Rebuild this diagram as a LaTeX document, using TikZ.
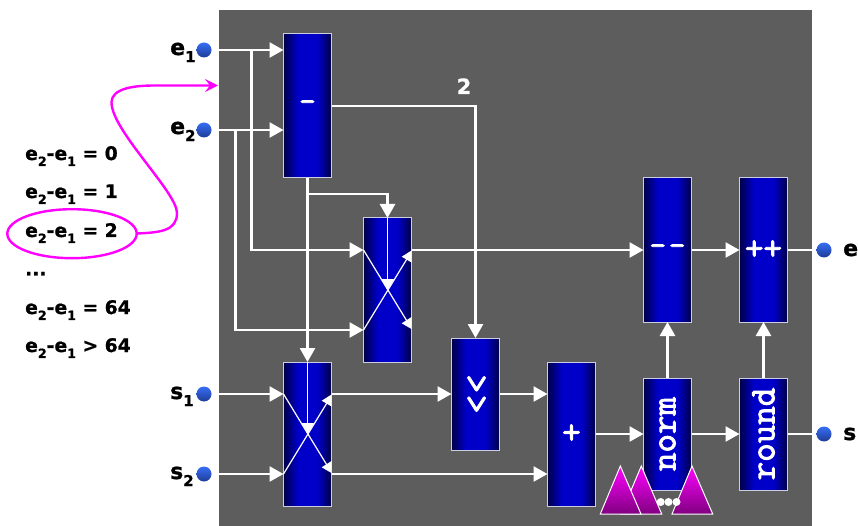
\documentclass[tikz,border=0pt]{standalone}
\usepackage{fontspec}
\usepackage{graphicx}
\setmainfont{DejaVu Sans}[BoldFeatures={FakeBold=1}]
\newfontfamily\slabmono{Latin Modern Mono}[FakeBold=2.5]
\usetikzlibrary{arrows.meta,calc}
\definecolor{panelgray}{RGB}{93,93,93}
\definecolor{boxedge}{RGB}{205,205,225}
\definecolor{hotmag}{RGB}{255,0,255}
\definecolor{pintop}{RGB}{55,110,245}
\definecolor{pinbot}{RGB}{30,60,150}
\pgfdeclarehorizontalshading{boxgrad}{100bp}{
  rgb(0bp)=(0,0,0.28);
  rgb(25bp)=(0,0,0.28);
  rgb(32bp)=(0,0,0.52);
  rgb(40bp)=(0,0,0.79);
  rgb(60bp)=(0,0,0.79);
  rgb(68bp)=(0,0,0.52);
  rgb(75bp)=(0,0,0.28);
  rgb(100bp)=(0,0,0.28)}
\newcommand{\sbs}[1]{\raisebox{-0.32em}{\fontsize{0.68em}{0.8em}\selectfont #1}}
\newcommand{\diff}[1]{e\sbs{2}-e\sbs{1} #1}
\tikzset{
  x=1pt,y=-1pt,
  hw/.style={draw=boxedge,line width=1pt,shading=boxgrad,inner sep=0pt,outer sep=0pt,
    minimum width=48pt,text=white,font=\fontsize{36}{36}\selectfont\slabmono},
  wire/.style={draw=white,line width=2.6pt},
  arrowed/.style={wire,-{Triangle[length=14pt,width=15pt]}},
  thinw/.style={draw=white,line width=1.2pt},
  pin/.style={circle,inner sep=0pt,outer sep=0pt,minimum size=15pt,top color=pintop,bottom color=pinbot},
  pinlabel/.style={anchor=base west,inner sep=0pt,font=\fontsize{22}{22}\selectfont\bfseries},
  difflabel/.style={anchor=base west,inner sep=0pt,font=\fontsize{18.7}{20}\selectfont\bfseries},
  tri/.style={draw=white,line width=1pt,top color=hotmag,bottom color=hotmag!50!black},
  dotw/.style={circle,fill=white,inner sep=0pt,minimum size=8pt},
}
\begin{document}
\begin{tikzpicture}
\useasboundingbox (0,0) rectangle (858,526);
\fill[panelgray] (219,10) rectangle (812,526);
% blocks
\node[hw,minimum height=144pt] (minus) at (307.5,106) {\fontsize{32}{32}\selectfont -};
\node[hw,minimum height=144pt] (muxa) at (387.5,290) {};
\node[hw,minimum height=144pt] (muxb) at (307.5,434) {};
\node[hw,minimum height=112pt] (shift) at (475.5,394) {\rotatebox{-90}{>\kern0.05em>}};
\node[hw,minimum height=144pt] (plus) at (571.5,434) {+};
\node[hw,minimum height=112pt] (norm) at (667.5,434) {\rotatebox{90}{norm}};
\node[hw,minimum height=112pt] (round) at (763.5,434) {\rotatebox{90}{round}};
\node[hw,minimum height=144pt] (dec) at (667.5,250) {\fontsize{32}{32}\selectfont -\kern3pt-};
\node[hw,minimum height=144pt] (inc) at (763.5,250) {++};
% pins
\node[pin] (pe1) at (204,50) {};
\node[pin] (pe2) at (204,130) {};
\node[pin] (ps1) at (204,394) {};
\node[pin] (ps2) at (204,474) {};
\node[pin] (pe) at (824,250) {};
\node[pin] (ps) at (824,434) {};
% free ends and junctions
\coordinate (ie1) at (219,50);
\coordinate (ie2) at (219,130);
\coordinate (is1) at (219,394);
\coordinate (is2) at (219,474);
\coordinate (oe) at (812,250);
\coordinate (os) at (812,434);
\coordinate (ja) at (251.5,50);
\coordinate (jb) at (235.5,130);
\coordinate (ya) at (363.5,250);
\coordinate (yb) at (363.5,330);
\coordinate (turn) at (475.5,106);
\coordinate (mj) at (307.5,194);
% connectors
\draw[arrowed] (ie1) -- (minus.west |- ie1);
\draw[arrowed] (ie2) -- (minus.west |- ie2);
\draw[arrowed] (ja) -- (ja |- ya) -- (ya);
\draw[arrowed] (jb) -- (jb |- yb) -- (yb);
\draw[arrowed] (minus.south) -- (muxb.north);
\draw[arrowed] (mj) -- (muxa.north |- mj) -- (muxa.north);
\draw[arrowed] (minus.east |- turn) -- (turn) -- (shift.north);
\draw[arrowed] (muxa.east |- ya) -- (dec.west);
\draw[arrowed] (dec.east) -- (inc.west);
\draw[wire] (inc.east) -- (oe);
\draw[arrowed] (is1) -- (muxb.west |- is1);
\draw[arrowed] (is2) -- (muxb.west |- is2);
\draw[arrowed] (muxb.east |- is1) -- (shift.west);
\draw[arrowed] (muxb.east |- is2) -- (plus.west |- is2);
\draw[arrowed] (shift.east) -- (plus.west |- shift.east);
\draw[arrowed] (plus.east) -- (norm.west);
\draw[arrowed] (norm.east) -- (round.west);
\draw[wire] (round.east) -- (os);
\draw[arrowed] (norm.north) -- (dec.south);
\draw[arrowed] (round.north) -- (inc.south);
% multiplexer interiors
\foreach \m in {muxa,muxb}{
  \begin{scope}[shift={(\m.center)}]
    \draw[thinw] (-24,-40) -- (20,32);
    \draw[thinw] (-24,40) -- (20,-32);
    \draw[thinw] (0,-72) -- (0,-8);
    \fill[white] (0,0) -- (-6.5,-11) -- (6.5,-11) -- cycle;
    \fill[white] (14.2,-33.3) -- (24,-39.5) -- (24,-27.5) -- cycle;
    \fill[white] (14.2,33.3) -- (24,27) -- (24,39) -- cycle;
  \end{scope}
}
% triangles and dots
\path[tri] (641.3,466) -- (621,514) -- (661.7,514) -- cycle;
\path[tri] (620.3,466) -- (600.3,514) -- (641,514) -- cycle;
\path[tri] (692,466) -- (672,514) -- (712.7,514) -- cycle;
\node[dotw] (d1) at (660.7,502) {};
\node[dotw] (d2) at (668.5,502) {};
\node[dotw] (d3) at (676.5,502) {};
% labels
\node[anchor=base,inner sep=0pt,text=white,font=\fontsize{21}{21}\selectfont\bfseries] (two) at (464,94) {2};
\node[pinlabel] (le1) at (170,55) {e\sbs{1}};
\node[pinlabel] (le2) at (170,134) {e\sbs{2}};
\node[pinlabel] (ls1) at (170,399) {s\sbs{1}};
\node[pinlabel] (ls2) at (170,479) {s\sbs{2}};
\node[pinlabel] (le) at (843,256) {e};
\node[pinlabel] (ls) at (843,440) {s};
\node[difflabel] (t0) at (25,160) {\diff{= 0}};
\node[difflabel] (t1) at (25,198) {\diff{= 1}};
\node[difflabel] (t2) at (25,237) {\diff{= 2}};
\node[difflabel] (t3) at (25,275.5) {...};
\node[difflabel] (t4) at (25,314) {\diff{= 64}};
\node[difflabel] (t5) at (25,352) {\diff{> 64}};
% magenta callout
\draw[hotmag,line width=2.4pt] (72,233.7) ellipse [x radius=64.7,y radius=24.5];
\coordinate (cs) at (136.7,233.5);
\coordinate (ce) at (218,85.5);
\draw[hotmag,line width=2.4pt,-{Stealth[length=13pt,width=13pt,inset=5pt]}]
  (cs) .. controls (160,232.5) and (177,231) .. (177,213)
  .. controls (177,192) and (111,130) .. (111.5,102)
  .. controls (112,88) and (135,85.5) .. (155,85.5) -- (ce);
\end{tikzpicture}
\end{document}
